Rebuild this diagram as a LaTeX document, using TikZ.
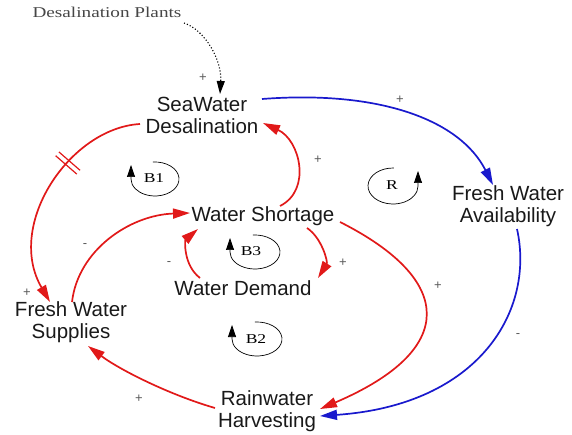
\documentclass[tikz,border=0pt]{standalone}
\usepackage{fontspec}
\setmainfont{Liberation Sans}
\newfontfamily\serifp{Liberation Serif}
\usetikzlibrary{arrows.meta,calc,decorations.markings}
\definecolor{cldred}{RGB}{225,25,25}
\definecolor{cldblue}{RGB}{25,25,205}
\definecolor{signgray}{RGB}{90,90,90}
\definecolor{plantgray}{RGB}{70,70,70}
\definecolor{vartext}{RGB}{25,25,25}
\begin{document}
\begin{tikzpicture}[x=1pt,y=-1pt,
  var/.style={font=\fontsize{20.5}{22}\selectfont, align=center, inner sep=0pt, text=vartext},
  link/.style={line width=1.7pt, -{Triangle[length=17pt,width=10pt]}},
  redlink/.style={link, draw=cldred},
  bluelink/.style={link, draw=cldblue},
  dotlink/.style={line width=1.1pt, dotted, -{Triangle[length=13pt,width=8pt]}},
  sign/.style={font=\fontsize{13}{13}\selectfont, text=signgray, inner sep=0pt},
  loopmark/.style={line width=0.7pt, -{Triangle[length=12pt,width=8pt]}},
  looplabel/.style={font=\serifp\fontsize{13.5}{13.5}\selectfont, inner sep=0pt},
  plantlabel/.style={font=\serifp\fontsize{15}{15}\selectfont, text=plantgray, inner sep=0pt}
]
\useasboundingbox (0,0) rectangle (572,435);

% variables
\node[plantlabel] (plants) at (107,12) {\scalebox{1.28}[1]{Desalination Plants}};
\node[var] (sea) at (202,115) {SeaWater\\Desalination};
\node[var] (fwa) at (508,206) {Fresh Water\\Availability};
\node[var] (ws) at (263,216) {Water Shortage};
\node[var] (wd) at (243,288) {Water Demand};
\node[var] (fws) at (71,322) {Fresh Water\\Supplies};
\node[var] (rh) at (267,411) {Rainwater\\Harvesting};

% links
\draw[dotlink] ($(plants.center)+(77,11)$) .. controls +(21,7) and +(2,-34) .. ($(sea.center)+(18,-21)$);
\draw[bluelink] ($(sea.center)+(60,-16)$) .. controls +(118,-9) and +(-33,-65) .. ($(fwa.center)+(-15,-21)$);
\draw[redlink, postaction={decorate, decoration={markings,
    mark=at position 0.36 with {\draw[cldred, line width=1.2pt, -] (-2.5,-14) -- (-2.5,14) (2.5,-14) -- (2.5,14);}}}]
  ($(sea.center)+(-62,9)$) .. controls +(-70,4) and +(-45,-77) .. ($(fws.center)+(-21,-20)$);
\draw[redlink] ($(ws.center)+(17,-10)$) .. controls +(32,-16) and +(37,17) .. ($(sea.center)+(61,8)$);
\draw[redlink] ($(fws.center)+(1,-20)$) .. controls +(6,-52) and +(-60,2) .. ($(ws.center)+(-73,-3)$);
\draw[redlink] ($(wd.center)+(-43,-10)$) .. controls +(-17,-13) and +(-13,11) .. ($(ws.center)+(-65,13)$);
\draw[redlink] ($(ws.center)+(44,12)$) .. controls +(15,10) and +(10,-16) .. ($(wd.center)+(75,-10)$);
\draw[redlink] ($(ws.center)+(77,6)$) .. controls +(115,58) and +(138,-59) .. ($(rh.center)+(53,-2)$);
\draw[bluelink] ($(fwa.center)+(9,23)$) .. controls +(18,81) and +(160,-11) .. ($(rh.center)+(53,5)$);
\draw[redlink] ($(rh.center)+(-52,-3)$) .. controls +(-45,-13) and +(32,24) .. ($(fws.center)+(17,24)$);

% polarity signs
\node[sign] (s1) at (203,78) {+};
\node[sign] (s2) at (400,100) {+};
\node[sign] (s3) at (318,160) {+};
\node[sign] (s4) at (27,293) {+};
\node[sign] (s5) at (85,246) {-};
\node[sign] (s6) at (169,264) {-};
\node[sign] (s7) at (343,263) {+};
\node[sign] (s8) at (438,286) {+};
\node[sign] (s9) at (518,336) {-};
\node[sign] (s10) at (139,399) {+};

% loop markers
\node[looplabel] (lB1) at (154,178) {\scalebox{1.3}[1]{B1}};
\node[looplabel] (lB3) at (251,251) {\scalebox{1.3}[1]{B3}};
\node[looplabel] (lB2) at (256,339) {\scalebox{1.3}[1]{B2}};
\node[looplabel] (lR) at (392,185) {\scalebox{1.3}[1]{R}};
\coordinate (cB1) at ($(lB1.center)+(1,1)$);
\coordinate (cB3) at ($(lB3.center)+(4,1)$);
\coordinate (cB2) at ($(lB2.center)+(1,0)$);
\coordinate (cR) at ($(lR.center)+(1,1)$);
\draw[loopmark] ($(cB1)+(-95:24 and 17)$) arc[start angle=-95, end angle=180, x radius=24, y radius=17] -- ++(0,-14);
\draw[loopmark] ($(cB3)+(-95:25 and 17)$) arc[start angle=-95, end angle=180, x radius=25, y radius=17] -- ++(0,-14);
\draw[loopmark] ($(cB2)+(-95:25 and 17)$) arc[start angle=-95, end angle=180, x radius=25, y radius=17] -- ++(0,-14);
\draw[loopmark] ($(cR)+(-88:25 and 18)$) arc[start angle=-88, end angle=-360, x radius=25, y radius=18] -- ++(0,-15);
\end{tikzpicture}
\end{document}
